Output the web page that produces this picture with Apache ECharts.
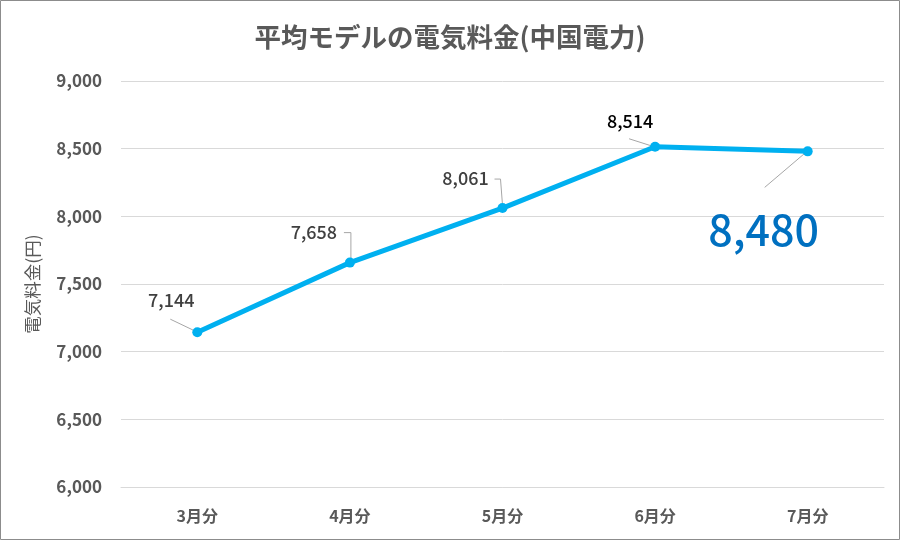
<!DOCTYPE html>
<html><head><meta charset="utf-8">
<script src="https://cdn.jsdelivr.net/npm/echarts@6/dist/echarts.min.js"></script>
<style>html,body{margin:0;padding:0;background:#fff}#c{width:900px;height:540px}</style>
</head><body><div id="c"></div>
<script>
const categories = ['3月分','4月分','5月分','6月分','7月分'];
const values = [7144, 7658, 8061, 8514, 8480];
const yTicks = [6000, 6500, 7000, 7500, 8000, 8500, 9000];
const FONT = '"Noto Sans CJK JP", "Noto Sans", sans-serif';
// label offsets (style) relative to default label placement
const labelOffsets = [[-26,-13],[-36,-11],[-37,-11],[-25,-7],[-44,0]];
// leader-line polylines relative to each data point (style)
const leaderOffsets = [
  [[-27,-13],[-4,-2]],
  [[-6,-30],[1,-30],[1,-3]],
  [[-8,-29],[-2,-29],[0,-3]],
  [[-26,-8],[-4,-1]],
  [[-43,36],[-3,2]]
];
const chart = echarts.init(document.getElementById('c'));
const fmt = v => v.toLocaleString('en-US');
const data = values.map((v,i) => {
  const item = {value: v};
  if (i === 3) item.label = {color: '#000000'};
  if (i === 4) item.label = {position: 'bottom', fontSize: 43, color: '#0070C0', distance: 52};
  return item;
});
chart.setOption({
  animation: false,
  textStyle: {fontFamily: FONT},
  graphic: [{type:'rect', shape:{x:0.5,y:0.5,width:899,height:539}, style:{fill:'none', stroke:'#8c8c8c', lineWidth:1}, silent:true}],
  title: {text: '平均モデルの電気料金(中国電力)', left: 'center', top: 19,
    textStyle: {fontFamily: FONT, fontSize: 26.5, fontWeight: 'bold', color: '#595959'}},
  grid: {left: 121, right: 16, top: 81, bottom: 53},
  xAxis: {type: 'category', data: categories, boundaryGap: true,
    axisLine: {show: true, lineStyle: {color: '#d9d9d9'}}, axisTick: {show: false},
    axisLabel: {color: '#595959', fontSize: 16, fontWeight: 'bold', margin: 21, fontFamily: FONT}},
  yAxis: {type: 'value', min: yTicks[0], max: yTicks[yTicks.length-1], interval: 500,
    name: '電気料金(円)', nameLocation: 'middle', nameGap: 80, nameRotate: 90,
    nameTextStyle: {color: '#595959', fontSize: 17.5, fontFamily: FONT},
    axisLine: {show: false}, axisTick: {show: false},
    splitLine: {lineStyle: {color: '#d9d9d9', width: 1}},
    axisLabel: {color: '#595959', fontSize: 17, fontWeight: 'bold', margin: 19, fontFamily: FONT, formatter: fmt}},
  series: [{type: 'custom', silent: true, z: 1,
      data: values.map((v,i) => [i, v]),
      renderItem: (params, api) => {
        const p = api.coord([api.value(0), api.value(1)]);
        const pts = leaderOffsets[params.dataIndex].map(o => [p[0]+o[0], p[1]+o[1]]);
        return {type: 'polyline', shape: {points: pts}, style: {stroke: '#a6a6a6', lineWidth: 1, fill: null}};
      }},
    {type: 'line', data: data, symbol: 'circle', symbolSize: 10, z: 3,
    lineStyle: {color: '#00B0F0', width: 5}, itemStyle: {color: '#00B0F0'},
    label: {show: true, position: 'top', fontSize: 18, fontWeight: 500, color: '#404040', fontFamily: FONT,
      formatter: p => fmt(p.value)},
    labelLayout: p => ({dx: labelOffsets[p.dataIndex][0], dy: labelOffsets[p.dataIndex][1]})
  }]
});
</script></body></html>
